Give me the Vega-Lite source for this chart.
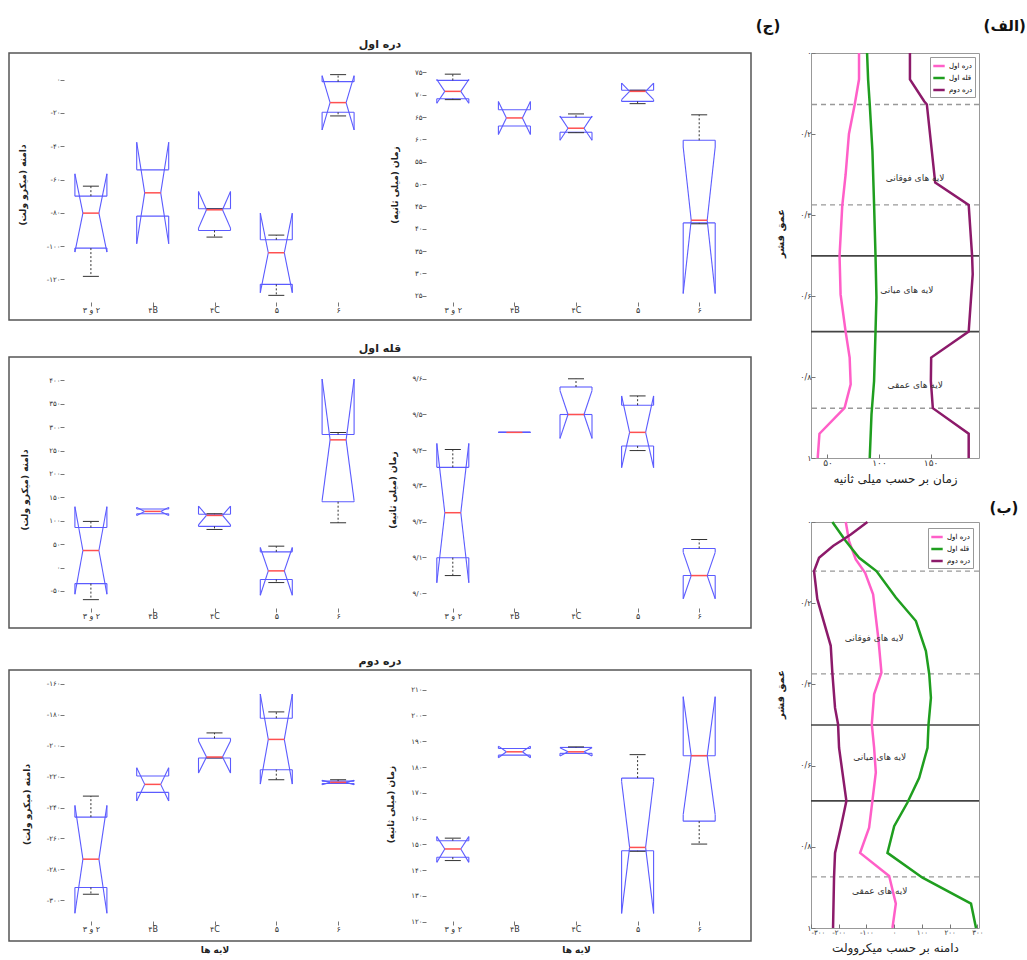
{
"$schema":"https://vega.github.io/schema/vega-lite/v6.json",
"padding":{"left":8,"top":18,"right":2,"bottom":2},
"background":"white",
"config":{
 "font":"DejaVu Sans",
 "locale":{"number":{"decimal":"/","thousands":",","grouping":[3],"currency":["",""],"numerals":["۰","۱","۲","۳","۴","۵","۶","۷","۸","۹"],"minus":"-"}},
 "axis":{"grid":false,"domain":false,"labelOverlap":false,"tickCount":30,"labelFontSize":7,"labelColor":"#333","tickColor":"#777","tickSize":-4,"labelPadding":4,"titleFontSize":9,"titleFontWeight":"bold","titleColor":"#222","titlePadding":9},
 "rule":{"color":"#5b5bff","strokeWidth":1.1}
},
"datasets":{
 "r1a":[
  {"pos":1,"q1":-101.2,"q3":-70,"med":-80.2,"nlo":-103.6,"nhi":-56.6,"wlo":-118.2,"whi":-64},
  {"pos":2,"q1":-82,"q3":-54.2,"med":-68,"nlo":-98.6,"nhi":-37.6,"wlo":null,"whi":null},
  {"pos":3,"q1":-90.6,"q3":-77.6,"med":-78.2,"nlo":-89.2,"nhi":-67.2,"wlo":-94.6,"whi":-77.6},
  {"pos":4,"q1":-123,"q3":-96.2,"med":-104,"nlo":-128,"nhi":-80.2,"wlo":-129.6,"whi":-93.4},
  {"pos":5,"q1":-19.6,"q3":-1.2,"med":-13.8,"nlo":-30.2,"nhi":2.4,"wlo":-21.8,"whi":3}],
 "r1t":[
  {"pos":1,"q1":69.1,"q3":73.2,"med":70.75,"nlo":68.1,"nhi":73.4,"wlo":68.9,"whi":74.6},
  {"pos":2,"q1":63.0,"q3":66.65,"med":64.8,"nlo":61.1,"nhi":68.5,"wlo":null,"whi":null},
  {"pos":3,"q1":61.6,"q3":64.95,"med":62.5,"nlo":59.8,"nhi":65.2,"wlo":61.5,"whi":65.7},
  {"pos":4,"q1":68.5,"q3":71.0,"med":70.75,"nlo":68.9,"nhi":72.6,"wlo":68.0,"whi":71.0},
  {"pos":5,"q1":41.3,"q3":59.8,"med":41.9,"nlo":25.5,"nhi":58.3,"wlo":41.1,"whi":65.5}],
 "r2a":[
  {"pos":1,"q1":-34.3,"q3":85.7,"med":36.4,"nlo":-57,"nhi":130,"wlo":-68.6,"whi":98.6},
  {"pos":2,"q1":115,"q3":125,"med":120,"nlo":111.4,"nhi":128.6,"wlo":null,"whi":null},
  {"pos":3,"q1":87.9,"q3":114,"med":111.4,"nlo":91.4,"nhi":131.4,"wlo":81.4,"whi":115},
  {"pos":4,"q1":-25.7,"q3":33.6,"med":-7.1,"nlo":-59.3,"nhi":42.9,"wlo":-32.1,"whi":45.7},
  {"pos":5,"q1":140.7,"q3":284.3,"med":272.9,"nlo":143,"nhi":402.9,"wlo":95.7,"whi":288.6}],
 "r2t":[
  {"pos":1,"q1":9.099,"q3":9.352,"med":9.225,"nlo":9.029,"nhi":9.419,"wlo":9.049,"whi":9.402},
  {"pos":2,"q1":9.45,"q3":9.45,"med":9.45,"nlo":9.45,"nhi":9.45,"wlo":null,"whi":null},
  {"pos":3,"q1":9.5,"q3":9.577,"med":9.5,"nlo":9.433,"nhi":9.567,"wlo":null,"whi":9.6},
  {"pos":4,"q1":9.412,"q3":9.526,"med":9.45,"nlo":9.351,"nhi":9.552,"wlo":9.399,"whi":9.552},
  {"pos":5,"q1":9.049,"q3":9.125,"med":9.049,"nlo":8.984,"nhi":9.114,"wlo":null,"whi":9.15}],
 "r3a":[
  {"pos":1,"q1":-291.7,"q3":-246.2,"med":-273.4,"nlo":-308.4,"nhi":-238.6,"wlo":-296.1,"whi":-232.6},
  {"pos":2,"q1":-230.2,"q3":-219.6,"med":-225,"nlo":-235.8,"nhi":-214.2,"wlo":null,"whi":null},
  {"pos":3,"q1":-207.9,"q3":-195.2,"med":-207.3,"nlo":-217.7,"nhi":-196.9,"wlo":-207.9,"whi":-191.7},
  {"pos":4,"q1":-215.5,"q3":-182.2,"med":-195.9,"nlo":-224.8,"nhi":-166.5,"wlo":-222,"whi":-178.1},
  {"pos":5,"q1":-224.4,"q3":-222.9,"med":-223.7,"nlo":-225.2,"nhi":-222.4,"wlo":null,"whi":-222}],
 "r3t":[
  {"pos":1,"q1":145.0,"q3":151.4,"med":148.2,"nlo":143.0,"nhi":153.0,"wlo":143.7,"whi":152.4},
  {"pos":2,"q1":184.6,"q3":187.2,"med":185.9,"nlo":183.6,"nhi":188.1,"wlo":null,"whi":null},
  {"pos":3,"q1":185.3,"q3":187.6,"med":185.9,"nlo":184.3,"nhi":187.5,"wlo":null,"whi":187.8},
  {"pos":4,"q1":147.5,"q3":175.7,"med":148.8,"nlo":123.2,"nhi":174.4,"wlo":147.3,"whi":184.8},
  {"pos":5,"q1":159,"q3":184.4,"med":184.4,"nlo":161.5,"nhi":207.3,"wlo":150.1,"whi":null}],
 "la":[
  {"s":"دره اول","depth":0,"v":80.6},{"s":"دره اول","depth":0.065,"v":80.6},{"s":"دره اول","depth":0.127,"v":76.4},{"s":"دره اول","depth":0.2,"v":70.8},{"s":"دره اول","depth":0.3,"v":67.6},{"s":"دره اول","depth":0.378,"v":64.3},{"s":"دره اول","depth":0.501,"v":61.7},{"s":"دره اول","depth":0.596,"v":62.7},{"s":"دره اول","depth":0.688,"v":67.6},{"s":"دره اول","depth":0.752,"v":71.5},{"s":"دره اول","depth":0.818,"v":72.5},{"s":"دره اول","depth":0.876,"v":66.6},{"s":"دره اول","depth":0.94,"v":42.2},{"s":"دره اول","depth":1,"v":40.5},
  {"s":"قله اول","depth":0,"v":88.4},{"s":"قله اول","depth":0.065,"v":89.4},{"s":"قله اول","depth":0.127,"v":91},{"s":"قله اول","depth":0.242,"v":93.6},{"s":"قله اول","depth":0.374,"v":95.2},{"s":"قله اول","depth":0.501,"v":96.6},{"s":"قله اول","depth":0.604,"v":97.5},{"s":"قله اول","depth":0.688,"v":96.6},{"s":"قله اول","depth":0.81,"v":95.2},{"s":"قله اول","depth":0.892,"v":92.7},{"s":"قله اول","depth":1,"v":91},
  {"s":"دره دوم","depth":0,"v":130},{"s":"دره دوم","depth":0.065,"v":130},{"s":"دره دوم","depth":0.119,"v":143.8},{"s":"دره دوم","depth":0.127,"v":146.4},{"s":"دره دوم","depth":0.32,"v":154.5},{"s":"دره دوم","depth":0.375,"v":187},{"s":"دره دوم","depth":0.501,"v":190.3},{"s":"دره دوم","depth":0.546,"v":190.9},{"s":"دره دوم","depth":0.688,"v":187},{"s":"دره دوم","depth":0.752,"v":150.6},{"s":"دره دوم","depth":0.81,"v":150.3},{"s":"دره دوم","depth":0.877,"v":152.2},{"s":"دره دوم","depth":0.94,"v":187},{"s":"دره دوم","depth":1,"v":187}],
 "lb":[
  {"s":"دره اول","depth":0,"v":-174.6},{"s":"دره اول","depth":0.047,"v":-162.7},{"s":"دره اول","depth":0.092,"v":-138.5},{"s":"دره اول","depth":0.125,"v":-104.8},{"s":"دره اول","depth":0.178,"v":-76},{"s":"دره اول","depth":0.289,"v":-56.7},{"s":"دره اول","depth":0.371,"v":-45.9},{"s":"دره اول","depth":0.424,"v":-72.3},{"s":"دره اول","depth":0.498,"v":-80.7},{"s":"دره اول","depth":0.556,"v":-72.3},{"s":"دره اول","depth":0.617,"v":-66.2},{"s":"دره اول","depth":0.687,"v":-78.5},{"s":"دره اول","depth":0.753,"v":-90.4},{"s":"دره اول","depth":0.815,"v":-122.9},{"s":"دره اول","depth":0.872,"v":-18.1},{"s":"دره اول","depth":0.94,"v":6},{"s":"دره اول","depth":1,"v":-6.2},
  {"s":"قله اول","depth":0,"v":-223},{"s":"قله اول","depth":0.047,"v":-174.6},{"s":"قله اول","depth":0.088,"v":-126.5},{"s":"قله اول","depth":0.121,"v":-64},{"s":"قله اول","depth":0.186,"v":6},{"s":"قله اول","depth":0.244,"v":78.4},{"s":"قله اول","depth":0.318,"v":114.5},{"s":"قله اول","depth":0.375,"v":126.5},{"s":"قله اول","depth":0.433,"v":132.6},{"s":"قله اول","depth":0.498,"v":124},{"s":"قله اول","depth":0.556,"v":120.3},{"s":"قله اول","depth":0.63,"v":90.3},{"s":"قله اول","depth":0.691,"v":48},{"s":"قله اول","depth":0.749,"v":0},{"s":"قله اول","depth":0.815,"v":-24.2},{"s":"قله اول","depth":0.876,"v":102.2},{"s":"قله اول","depth":0.94,"v":277.2},{"s":"قله اول","depth":1,"v":295.2},
  {"s":"دره دوم","depth":0,"v":-96.5},{"s":"دره دوم","depth":0.031,"v":-156.5},{"s":"دره دوم","depth":0.059,"v":-220.5},{"s":"دره دوم","depth":0.088,"v":-271},{"s":"دره دوم","depth":0.121,"v":-289},{"s":"دره دوم","depth":0.19,"v":-277.2},{"s":"دره دوم","depth":0.305,"v":-228.8},{"s":"دره دوم","depth":0.371,"v":-223},{"s":"دره دوم","depth":0.458,"v":-213.3},{"s":"دره دوم","depth":0.498,"v":-202.4},{"s":"دره دوم","depth":0.556,"v":-198.8},{"s":"دره دوم","depth":0.687,"v":-172.4},{"s":"دره دوم","depth":0.753,"v":-192.7},{"s":"دره دوم","depth":0.815,"v":-213.3},{"s":"دره دوم","depth":0.876,"v":-216.9},{"s":"دره دوم","depth":1,"v":-220.5}],
 "hla":[{"depth":0.127,"kind":"dashed"},{"depth":0.375,"kind":"dashed"},{"depth":0.877,"kind":"dashed"},{"depth":0.501,"kind":"solid"},{"depth":0.688,"kind":"solid"}],
 "hlb":[{"depth":0.121,"kind":"dashed"},{"depth":0.374,"kind":"dashed"},{"depth":0.874,"kind":"dashed"},{"depth":0.5,"kind":"solid"},{"depth":0.687,"kind":"solid"}],
 "ta":[{"label":"لایه های فوقانی","v":135,"depth":0.308},{"label":"لایه های میانی","v":127,"depth":0.586},{"label":"لایه های عمقی","v":135,"depth":0.82}],
 "tb":[{"label":"لایه های فوقانی","v":-72,"depth":0.285},{"label":"لایه های میانی","v":-52,"depth":0.58},{"label":"لایه های عمقی","v":-52,"depth":0.909}]
},
"hconcat":[
 {"vconcat":[
  {"width":742,"height":267,"view":{"stroke":"#555","strokeWidth":1.5},
   "title":{"text":"دره اول","anchor":"middle","offset":3,"dy":11,"baseline":"bottom","fontSize":11,"fontWeight":"bold","color":"#222"},
   "resolve":{"scale":{"x":"independent","y":"independent"}},
   "layer":[
    {"data":{"name":"r1a"},
     "encoding":{"x":{"field":"pos","type":"quantitative","scale":{"domain":[0.5,5.5],"range":[51,360],"nice":false,"zero":false},"axis":{"orient":"bottom","offset":-14,"values":[1,2,3,4,5],"tickCount":30,"labelFontSize":8,"labelOverlap":false,"labelExpr":"['', '\u200f۲ و ۳', '۴B', '۴C', '۵', '۶'][datum.value]","title":null}}},
     "layer":[
      {"data":{"values":[{}]},"mark":{"type":"rect","filled":false,"stroke":"#aaa","strokeWidth":1},"encoding":{"x":{"datum":0.5,"type":"quantitative"},"x2":{"datum":5.5},"y":{"datum":-136,"type":"quantitative","scale":{"domain":[-136,10],"range":[253,10],"nice":false,"zero":false},"axis":{"orient":"left","offset":-51,"values":[0,-20,-40,-60,-80,-100,-120],"tickCount":30,"labelOverlap":false,"format":"d","titlePadding":19,"title":"\u200fدامنه (میکرو ولت)\u200f"}},"y2":{"datum":10}}},
      {"mark":{"type":"rule","xOffset":-16,"x2Offset":16},"encoding":{"x2":{"field":"pos"},"y":{"field":"q3","type":"quantitative"}}},
      {"mark":{"type":"rule","xOffset":-16,"x2Offset":16},"encoding":{"x2":{"field":"pos"},"y":{"field":"q1","type":"quantitative"}}},
      {"mark":{"type":"rule","xOffset":-16},"encoding":{"y":{"field":"q3","type":"quantitative"},"y2":{"field":"nhi"}}},
      {"mark":{"type":"rule","xOffset":16},"encoding":{"y":{"field":"q3","type":"quantitative"},"y2":{"field":"nhi"}}},
      {"mark":{"type":"rule","xOffset":-16},"encoding":{"y":{"field":"q1","type":"quantitative"},"y2":{"field":"nlo"}}},
      {"mark":{"type":"rule","xOffset":16},"encoding":{"y":{"field":"q1","type":"quantitative"},"y2":{"field":"nlo"}}},
      {"mark":{"type":"rule","xOffset":-16,"x2Offset":-8},"encoding":{"x2":{"field":"pos"},"y":{"field":"nhi","type":"quantitative"},"y2":{"field":"med"}}},
      {"mark":{"type":"rule","xOffset":16,"x2Offset":8},"encoding":{"x2":{"field":"pos"},"y":{"field":"nhi","type":"quantitative"},"y2":{"field":"med"}}},
      {"mark":{"type":"rule","xOffset":-16,"x2Offset":-8},"encoding":{"x2":{"field":"pos"},"y":{"field":"nlo","type":"quantitative"},"y2":{"field":"med"}}},
      {"mark":{"type":"rule","xOffset":16,"x2Offset":8},"encoding":{"x2":{"field":"pos"},"y":{"field":"nlo","type":"quantitative"},"y2":{"field":"med"}}},
      {"transform":[{"filter":"isValid(datum.whi)"}],"mark":{"type":"rule","color":"#333","strokeDash":[2,2],"strokeWidth":1},"encoding":{"y":{"field":"q3","type":"quantitative"},"y2":{"field":"whi"}}},
      {"transform":[{"filter":"isValid(datum.wlo)"}],"mark":{"type":"rule","color":"#333","strokeDash":[2,2],"strokeWidth":1},"encoding":{"y":{"field":"q1","type":"quantitative"},"y2":{"field":"wlo"}}},
      {"transform":[{"filter":"isValid(datum.whi)"}],"mark":{"type":"rule","color":"#333","strokeWidth":1,"xOffset":-8,"x2Offset":8},"encoding":{"x2":{"field":"pos"},"y":{"field":"whi","type":"quantitative"}}},
      {"transform":[{"filter":"isValid(datum.wlo)"}],"mark":{"type":"rule","color":"#333","strokeWidth":1,"xOffset":-8,"x2Offset":8},"encoding":{"x2":{"field":"pos"},"y":{"field":"wlo","type":"quantitative"}}},
      {"mark":{"type":"rule","color":"#ff5050","strokeWidth":1.5,"xOffset":-8,"x2Offset":8},"encoding":{"x2":{"field":"pos"},"y":{"field":"med","type":"quantitative"}}},
      {"data":{"values":[{}]},"mark":{"type":"text","text":"P = ۰/۰۴۷","align":"left","baseline":"middle","fontSize":11,"color":"#444"},"encoding":{"x":{"datum":0.76,"type":"quantitative"},"y":{"datum":-5,"type":"quantitative"}}}
     ]},
    {"data":{"name":"r1t"},
     "encoding":{"x":{"field":"pos","type":"quantitative","scale":{"domain":[0.5,5.5],"range":[413,721],"nice":false,"zero":false},"axis":{"orient":"bottom","offset":-14,"values":[1,2,3,4,5],"tickCount":30,"labelFontSize":8,"labelOverlap":false,"labelExpr":"['', '\u200f۲ و ۳', '۴B', '۴C', '۵', '۶'][datum.value]","title":null}}},
     "layer":[
      {"data":{"values":[{}]},"mark":{"type":"rect","filled":false,"stroke":"#aaa","strokeWidth":1},"encoding":{"x":{"datum":0.5,"type":"quantitative"},"x2":{"datum":5.5},"y":{"datum":22.7,"type":"quantitative","scale":{"domain":[22.7,77.1],"range":[253,10],"nice":false,"zero":false},"axis":{"orient":"left","offset":-413,"values":[25,30,35,40,45,50,55,60,65,70,75],"tickCount":30,"labelOverlap":false,"format":"d","titlePadding":15,"title":"\u200fزمان (میلی ثانیه)\u200f"}},"y2":{"datum":77.1}}},
      {"mark":{"type":"rule","xOffset":-16,"x2Offset":16},"encoding":{"x2":{"field":"pos"},"y":{"field":"q3","type":"quantitative"}}},
      {"mark":{"type":"rule","xOffset":-16,"x2Offset":16},"encoding":{"x2":{"field":"pos"},"y":{"field":"q1","type":"quantitative"}}},
      {"mark":{"type":"rule","xOffset":-16},"encoding":{"y":{"field":"q3","type":"quantitative"},"y2":{"field":"nhi"}}},
      {"mark":{"type":"rule","xOffset":16},"encoding":{"y":{"field":"q3","type":"quantitative"},"y2":{"field":"nhi"}}},
      {"mark":{"type":"rule","xOffset":-16},"encoding":{"y":{"field":"q1","type":"quantitative"},"y2":{"field":"nlo"}}},
      {"mark":{"type":"rule","xOffset":16},"encoding":{"y":{"field":"q1","type":"quantitative"},"y2":{"field":"nlo"}}},
      {"mark":{"type":"rule","xOffset":-16,"x2Offset":-8},"encoding":{"x2":{"field":"pos"},"y":{"field":"nhi","type":"quantitative"},"y2":{"field":"med"}}},
      {"mark":{"type":"rule","xOffset":16,"x2Offset":8},"encoding":{"x2":{"field":"pos"},"y":{"field":"nhi","type":"quantitative"},"y2":{"field":"med"}}},
      {"mark":{"type":"rule","xOffset":-16,"x2Offset":-8},"encoding":{"x2":{"field":"pos"},"y":{"field":"nlo","type":"quantitative"},"y2":{"field":"med"}}},
      {"mark":{"type":"rule","xOffset":16,"x2Offset":8},"encoding":{"x2":{"field":"pos"},"y":{"field":"nlo","type":"quantitative"},"y2":{"field":"med"}}},
      {"transform":[{"filter":"isValid(datum.whi)"}],"mark":{"type":"rule","color":"#333","strokeDash":[2,2],"strokeWidth":1},"encoding":{"y":{"field":"q3","type":"quantitative"},"y2":{"field":"whi"}}},
      {"transform":[{"filter":"isValid(datum.wlo)"}],"mark":{"type":"rule","color":"#333","strokeDash":[2,2],"strokeWidth":1},"encoding":{"y":{"field":"q1","type":"quantitative"},"y2":{"field":"wlo"}}},
      {"transform":[{"filter":"isValid(datum.whi)"}],"mark":{"type":"rule","color":"#333","strokeWidth":1,"xOffset":-8,"x2Offset":8},"encoding":{"x2":{"field":"pos"},"y":{"field":"whi","type":"quantitative"}}},
      {"transform":[{"filter":"isValid(datum.wlo)"}],"mark":{"type":"rule","color":"#333","strokeWidth":1,"xOffset":-8,"x2Offset":8},"encoding":{"x2":{"field":"pos"},"y":{"field":"wlo","type":"quantitative"}}},
      {"mark":{"type":"rule","color":"#ff5050","strokeWidth":1.5,"xOffset":-8,"x2Offset":8},"encoding":{"x2":{"field":"pos"},"y":{"field":"med","type":"quantitative"}}},
      {"data":{"values":[{}]},"mark":{"type":"text","text":"P = ۰/۰۲۳","align":"left","baseline":"middle","fontSize":11,"color":"#444"},"encoding":{"x":{"datum":0.81,"type":"quantitative"},"y":{"datum":57.9,"type":"quantitative"}}}
     ]}
   ]},
  {"vconcat":[
   {"width":742,"height":271,"view":{"stroke":"#555","strokeWidth":1.5},
    "title":{"text":"قله اول","anchor":"middle","offset":3,"dy":11,"baseline":"bottom","fontSize":11,"fontWeight":"bold","color":"#222"},
    "resolve":{"scale":{"x":"independent","y":"independent"}},
    "layer":[
     {"data":{"name":"r2a"},
      "encoding":{"x":{"field":"pos","type":"quantitative","scale":{"domain":[0.5,5.5],"range":[51,360],"nice":false,"zero":false},"axis":{"orient":"bottom","offset":-16,"values":[1,2,3,4,5],"tickCount":30,"labelFontSize":8,"labelOverlap":false,"labelExpr":"['', '\u200f۲ و ۳', '۴B', '۴C', '۵', '۶'][datum.value]","title":null}}},
      "layer":[
       {"data":{"values":[{}]},"mark":{"type":"rect","filled":false,"stroke":"#aaa","strokeWidth":1},"encoding":{"x":{"datum":0.5,"type":"quantitative"},"x2":{"datum":5.5},"y":{"datum":-95,"type":"quantitative","scale":{"domain":[-95,428.6],"range":[255,10],"nice":false,"zero":false},"axis":{"orient":"left","offset":-51,"values":[-50,0,50,100,150,200,250,300,350,400],"tickCount":30,"labelOverlap":false,"format":"d","titlePadding":19,"title":"\u200fدامنه (میکرو ولت)\u200f"}},"y2":{"datum":428.6}}},
       {"mark":{"type":"rule","xOffset":-16,"x2Offset":16},"encoding":{"x2":{"field":"pos"},"y":{"field":"q3","type":"quantitative"}}},
       {"mark":{"type":"rule","xOffset":-16,"x2Offset":16},"encoding":{"x2":{"field":"pos"},"y":{"field":"q1","type":"quantitative"}}},
       {"mark":{"type":"rule","xOffset":-16},"encoding":{"y":{"field":"q3","type":"quantitative"},"y2":{"field":"nhi"}}},
       {"mark":{"type":"rule","xOffset":16},"encoding":{"y":{"field":"q3","type":"quantitative"},"y2":{"field":"nhi"}}},
       {"mark":{"type":"rule","xOffset":-16},"encoding":{"y":{"field":"q1","type":"quantitative"},"y2":{"field":"nlo"}}},
       {"mark":{"type":"rule","xOffset":16},"encoding":{"y":{"field":"q1","type":"quantitative"},"y2":{"field":"nlo"}}},
       {"mark":{"type":"rule","xOffset":-16,"x2Offset":-8},"encoding":{"x2":{"field":"pos"},"y":{"field":"nhi","type":"quantitative"},"y2":{"field":"med"}}},
       {"mark":{"type":"rule","xOffset":16,"x2Offset":8},"encoding":{"x2":{"field":"pos"},"y":{"field":"nhi","type":"quantitative"},"y2":{"field":"med"}}},
       {"mark":{"type":"rule","xOffset":-16,"x2Offset":-8},"encoding":{"x2":{"field":"pos"},"y":{"field":"nlo","type":"quantitative"},"y2":{"field":"med"}}},
       {"mark":{"type":"rule","xOffset":16,"x2Offset":8},"encoding":{"x2":{"field":"pos"},"y":{"field":"nlo","type":"quantitative"},"y2":{"field":"med"}}},
       {"transform":[{"filter":"isValid(datum.whi)"}],"mark":{"type":"rule","color":"#333","strokeDash":[2,2],"strokeWidth":1},"encoding":{"y":{"field":"q3","type":"quantitative"},"y2":{"field":"whi"}}},
       {"transform":[{"filter":"isValid(datum.wlo)"}],"mark":{"type":"rule","color":"#333","strokeDash":[2,2],"strokeWidth":1},"encoding":{"y":{"field":"q1","type":"quantitative"},"y2":{"field":"wlo"}}},
       {"transform":[{"filter":"isValid(datum.whi)"}],"mark":{"type":"rule","color":"#333","strokeWidth":1,"xOffset":-8,"x2Offset":8},"encoding":{"x2":{"field":"pos"},"y":{"field":"whi","type":"quantitative"}}},
       {"transform":[{"filter":"isValid(datum.wlo)"}],"mark":{"type":"rule","color":"#333","strokeWidth":1,"xOffset":-8,"x2Offset":8},"encoding":{"x2":{"field":"pos"},"y":{"field":"wlo","type":"quantitative"}}},
       {"mark":{"type":"rule","color":"#ff5050","strokeWidth":1.5,"xOffset":-8,"x2Offset":8},"encoding":{"x2":{"field":"pos"},"y":{"field":"med","type":"quantitative"}}},
       {"data":{"values":[{}]},"mark":{"type":"text","text":"P = ۰/۰۳۷","align":"left","baseline":"middle","fontSize":11,"color":"#444"},"encoding":{"x":{"datum":0.73,"type":"quantitative"},"y":{"datum":368,"type":"quantitative"}}}
      ]},
     {"data":{"name":"r2t"},
      "encoding":{"x":{"field":"pos","type":"quantitative","scale":{"domain":[0.5,5.5],"range":[413,721],"nice":false,"zero":false},"axis":{"orient":"bottom","offset":-16,"values":[1,2,3,4,5],"tickCount":30,"labelFontSize":8,"labelOverlap":false,"labelExpr":"['', '\u200f۲ و ۳', '۴B', '۴C', '۵', '۶'][datum.value]","title":null}}},
      "layer":[
       {"data":{"values":[{}]},"mark":{"type":"rect","filled":false,"stroke":"#aaa","strokeWidth":1},"encoding":{"x":{"datum":0.5,"type":"quantitative"},"x2":{"datum":5.5},"y":{"datum":8.947,"type":"quantitative","scale":{"domain":[8.947,9.633],"range":[255,10],"nice":false,"zero":false},"axis":{"orient":"left","offset":-413,"values":[9,9.1,9.2,9.3,9.4,9.5,9.6],"tickCount":30,"labelOverlap":false,"format":".1f","titlePadding":15,"title":"\u200fزمان (میلی ثانیه)\u200f"}},"y2":{"datum":9.633}}},
       {"mark":{"type":"rule","xOffset":-16,"x2Offset":16},"encoding":{"x2":{"field":"pos"},"y":{"field":"q3","type":"quantitative"}}},
       {"mark":{"type":"rule","xOffset":-16,"x2Offset":16},"encoding":{"x2":{"field":"pos"},"y":{"field":"q1","type":"quantitative"}}},
       {"mark":{"type":"rule","xOffset":-16},"encoding":{"y":{"field":"q3","type":"quantitative"},"y2":{"field":"nhi"}}},
       {"mark":{"type":"rule","xOffset":16},"encoding":{"y":{"field":"q3","type":"quantitative"},"y2":{"field":"nhi"}}},
       {"mark":{"type":"rule","xOffset":-16},"encoding":{"y":{"field":"q1","type":"quantitative"},"y2":{"field":"nlo"}}},
       {"mark":{"type":"rule","xOffset":16},"encoding":{"y":{"field":"q1","type":"quantitative"},"y2":{"field":"nlo"}}},
       {"mark":{"type":"rule","xOffset":-16,"x2Offset":-8},"encoding":{"x2":{"field":"pos"},"y":{"field":"nhi","type":"quantitative"},"y2":{"field":"med"}}},
       {"mark":{"type":"rule","xOffset":16,"x2Offset":8},"encoding":{"x2":{"field":"pos"},"y":{"field":"nhi","type":"quantitative"},"y2":{"field":"med"}}},
       {"mark":{"type":"rule","xOffset":-16,"x2Offset":-8},"encoding":{"x2":{"field":"pos"},"y":{"field":"nlo","type":"quantitative"},"y2":{"field":"med"}}},
       {"mark":{"type":"rule","xOffset":16,"x2Offset":8},"encoding":{"x2":{"field":"pos"},"y":{"field":"nlo","type":"quantitative"},"y2":{"field":"med"}}},
       {"transform":[{"filter":"isValid(datum.whi)"}],"mark":{"type":"rule","color":"#333","strokeDash":[2,2],"strokeWidth":1},"encoding":{"y":{"field":"q3","type":"quantitative"},"y2":{"field":"whi"}}},
       {"transform":[{"filter":"isValid(datum.wlo)"}],"mark":{"type":"rule","color":"#333","strokeDash":[2,2],"strokeWidth":1},"encoding":{"y":{"field":"q1","type":"quantitative"},"y2":{"field":"wlo"}}},
       {"transform":[{"filter":"isValid(datum.whi)"}],"mark":{"type":"rule","color":"#333","strokeWidth":1,"xOffset":-8,"x2Offset":8},"encoding":{"x2":{"field":"pos"},"y":{"field":"whi","type":"quantitative"}}},
       {"transform":[{"filter":"isValid(datum.wlo)"}],"mark":{"type":"rule","color":"#333","strokeWidth":1,"xOffset":-8,"x2Offset":8},"encoding":{"x2":{"field":"pos"},"y":{"field":"wlo","type":"quantitative"}}},
       {"mark":{"type":"rule","color":"#ff5050","strokeWidth":1.5,"xOffset":-8,"x2Offset":8},"encoding":{"x2":{"field":"pos"},"y":{"field":"med","type":"quantitative"}}},
       {"data":{"values":[{}]},"mark":{"type":"text","text":"P = ۰/۰۲۰","align":"left","baseline":"middle","fontSize":11,"color":"#444"},"encoding":{"x":{"datum":0.86,"type":"quantitative"},"y":{"datum":9.555,"type":"quantitative"}}}
      ]}
    ]},
   {"width":742,"height":271,"view":{"stroke":"#555","strokeWidth":1.5},
    "title":{"text":"دره دوم","anchor":"middle","offset":3,"dy":11,"baseline":"bottom","fontSize":11,"fontWeight":"bold","color":"#222"},
    "resolve":{"scale":{"x":"independent","y":"independent"}},
    "layer":[
     {"data":{"name":"r3a"},
      "encoding":{"x":{"field":"pos","type":"quantitative","scale":{"domain":[0.5,5.5],"range":[51,360],"nice":false,"zero":false},"axis":{"orient":"bottom","offset":-16,"values":[1,2,3,4,5],"tickCount":30,"labelFontSize":8,"labelOverlap":false,"labelExpr":"['', '\u200f۲ و ۳', '۴B', '۴C', '۵', '۶'][datum.value]","title":"لایه ها","titleY":20,"titleBaseline":"top"}}},
      "layer":[
       {"data":{"values":[{}]},"mark":{"type":"rect","filled":false,"stroke":"#aaa","strokeWidth":1},"encoding":{"x":{"datum":0.5,"type":"quantitative"},"x2":{"datum":5.5},"y":{"datum":-316,"type":"quantitative","scale":{"domain":[-316,-159.4],"range":[255,13],"nice":false,"zero":false},"axis":{"orient":"left","offset":-51,"values":[-300,-280,-260,-240,-220,-200,-180,-160],"tickCount":30,"labelOverlap":false,"format":"d","titlePadding":15,"title":"\u200fدامنه (میکرو ولت)\u200f"}},"y2":{"datum":-159.4}}},
       {"mark":{"type":"rule","xOffset":-16,"x2Offset":16},"encoding":{"x2":{"field":"pos"},"y":{"field":"q3","type":"quantitative"}}},
       {"mark":{"type":"rule","xOffset":-16,"x2Offset":16},"encoding":{"x2":{"field":"pos"},"y":{"field":"q1","type":"quantitative"}}},
       {"mark":{"type":"rule","xOffset":-16},"encoding":{"y":{"field":"q3","type":"quantitative"},"y2":{"field":"nhi"}}},
       {"mark":{"type":"rule","xOffset":16},"encoding":{"y":{"field":"q3","type":"quantitative"},"y2":{"field":"nhi"}}},
       {"mark":{"type":"rule","xOffset":-16},"encoding":{"y":{"field":"q1","type":"quantitative"},"y2":{"field":"nlo"}}},
       {"mark":{"type":"rule","xOffset":16},"encoding":{"y":{"field":"q1","type":"quantitative"},"y2":{"field":"nlo"}}},
       {"mark":{"type":"rule","xOffset":-16,"x2Offset":-8},"encoding":{"x2":{"field":"pos"},"y":{"field":"nhi","type":"quantitative"},"y2":{"field":"med"}}},
       {"mark":{"type":"rule","xOffset":16,"x2Offset":8},"encoding":{"x2":{"field":"pos"},"y":{"field":"nhi","type":"quantitative"},"y2":{"field":"med"}}},
       {"mark":{"type":"rule","xOffset":-16,"x2Offset":-8},"encoding":{"x2":{"field":"pos"},"y":{"field":"nlo","type":"quantitative"},"y2":{"field":"med"}}},
       {"mark":{"type":"rule","xOffset":16,"x2Offset":8},"encoding":{"x2":{"field":"pos"},"y":{"field":"nlo","type":"quantitative"},"y2":{"field":"med"}}},
       {"transform":[{"filter":"isValid(datum.whi)"}],"mark":{"type":"rule","color":"#333","strokeDash":[2,2],"strokeWidth":1},"encoding":{"y":{"field":"q3","type":"quantitative"},"y2":{"field":"whi"}}},
       {"transform":[{"filter":"isValid(datum.wlo)"}],"mark":{"type":"rule","color":"#333","strokeDash":[2,2],"strokeWidth":1},"encoding":{"y":{"field":"q1","type":"quantitative"},"y2":{"field":"wlo"}}},
       {"transform":[{"filter":"isValid(datum.whi)"}],"mark":{"type":"rule","color":"#333","strokeWidth":1,"xOffset":-8,"x2Offset":8},"encoding":{"x2":{"field":"pos"},"y":{"field":"whi","type":"quantitative"}}},
       {"transform":[{"filter":"isValid(datum.wlo)"}],"mark":{"type":"rule","color":"#333","strokeWidth":1,"xOffset":-8,"x2Offset":8},"encoding":{"x2":{"field":"pos"},"y":{"field":"wlo","type":"quantitative"}}},
       {"mark":{"type":"rule","color":"#ff5050","strokeWidth":1.5,"xOffset":-8,"x2Offset":8},"encoding":{"x2":{"field":"pos"},"y":{"field":"med","type":"quantitative"}}},
       {"data":{"values":[{}]},"mark":{"type":"text","text":"P = ۰/۰۱۸","align":"left","baseline":"middle","fontSize":11,"color":"#444"},"encoding":{"x":{"datum":0.89,"type":"quantitative"},"y":{"datum":-180.3,"type":"quantitative"}}}
      ]},
     {"data":{"name":"r3t"},
      "encoding":{"x":{"field":"pos","type":"quantitative","scale":{"domain":[0.5,5.5],"range":[413,721],"nice":false,"zero":false},"axis":{"orient":"bottom","offset":-16,"values":[1,2,3,4,5],"tickCount":30,"labelFontSize":8,"labelOverlap":false,"labelExpr":"['', '\u200f۲ و ۳', '۴B', '۴C', '۵', '۶'][datum.value]","title":"لایه ها","titleY":20,"titleBaseline":"top"}}},
      "layer":[
       {"data":{"values":[{}]},"mark":{"type":"rect","filled":false,"stroke":"#aaa","strokeWidth":1},"encoding":{"x":{"datum":0.5,"type":"quantitative"},"x2":{"datum":5.5},"y":{"datum":118.7,"type":"quantitative","scale":{"domain":[118.7,212.6],"range":[255,13],"nice":false,"zero":false},"axis":{"orient":"left","offset":-413,"values":[120,130,140,150,160,170,180,190,200,210],"tickCount":30,"labelOverlap":false,"format":"d","titlePadding":15,"title":"\u200fزمان (میلی ثانیه)\u200f"}},"y2":{"datum":212.6}}},
       {"mark":{"type":"rule","xOffset":-16,"x2Offset":16},"encoding":{"x2":{"field":"pos"},"y":{"field":"q3","type":"quantitative"}}},
       {"mark":{"type":"rule","xOffset":-16,"x2Offset":16},"encoding":{"x2":{"field":"pos"},"y":{"field":"q1","type":"quantitative"}}},
       {"mark":{"type":"rule","xOffset":-16},"encoding":{"y":{"field":"q3","type":"quantitative"},"y2":{"field":"nhi"}}},
       {"mark":{"type":"rule","xOffset":16},"encoding":{"y":{"field":"q3","type":"quantitative"},"y2":{"field":"nhi"}}},
       {"mark":{"type":"rule","xOffset":-16},"encoding":{"y":{"field":"q1","type":"quantitative"},"y2":{"field":"nlo"}}},
       {"mark":{"type":"rule","xOffset":16},"encoding":{"y":{"field":"q1","type":"quantitative"},"y2":{"field":"nlo"}}},
       {"mark":{"type":"rule","xOffset":-16,"x2Offset":-8},"encoding":{"x2":{"field":"pos"},"y":{"field":"nhi","type":"quantitative"},"y2":{"field":"med"}}},
       {"mark":{"type":"rule","xOffset":16,"x2Offset":8},"encoding":{"x2":{"field":"pos"},"y":{"field":"nhi","type":"quantitative"},"y2":{"field":"med"}}},
       {"mark":{"type":"rule","xOffset":-16,"x2Offset":-8},"encoding":{"x2":{"field":"pos"},"y":{"field":"nlo","type":"quantitative"},"y2":{"field":"med"}}},
       {"mark":{"type":"rule","xOffset":16,"x2Offset":8},"encoding":{"x2":{"field":"pos"},"y":{"field":"nlo","type":"quantitative"},"y2":{"field":"med"}}},
       {"transform":[{"filter":"isValid(datum.whi)"}],"mark":{"type":"rule","color":"#333","strokeDash":[2,2],"strokeWidth":1},"encoding":{"y":{"field":"q3","type":"quantitative"},"y2":{"field":"whi"}}},
       {"transform":[{"filter":"isValid(datum.wlo)"}],"mark":{"type":"rule","color":"#333","strokeDash":[2,2],"strokeWidth":1},"encoding":{"y":{"field":"q1","type":"quantitative"},"y2":{"field":"wlo"}}},
       {"transform":[{"filter":"isValid(datum.whi)"}],"mark":{"type":"rule","color":"#333","strokeWidth":1,"xOffset":-8,"x2Offset":8},"encoding":{"x2":{"field":"pos"},"y":{"field":"whi","type":"quantitative"}}},
       {"transform":[{"filter":"isValid(datum.wlo)"}],"mark":{"type":"rule","color":"#333","strokeWidth":1,"xOffset":-8,"x2Offset":8},"encoding":{"x2":{"field":"pos"},"y":{"field":"wlo","type":"quantitative"}}},
       {"mark":{"type":"rule","color":"#ff5050","strokeWidth":1.5,"xOffset":-8,"x2Offset":8},"encoding":{"x2":{"field":"pos"},"y":{"field":"med","type":"quantitative"}}},
       {"data":{"values":[{}]},"mark":{"type":"text","text":"P = ۰/۰۳۶","align":"left","baseline":"middle","fontSize":11,"color":"#444"},"encoding":{"x":{"datum":0.81,"type":"quantitative"},"y":{"datum":195.9,"type":"quantitative"}}}
      ]}
    ]}
  ],"spacing":42,"bounds":"flush"}
 ],"spacing":37,"bounds":"flush"},
 {"vconcat":[
  {"width":168,"height":405,"view":{"stroke":"#999","strokeWidth":1},
   "layer":[
    {"data":{"name":"hla"},"transform":[{"filter":"datum.kind == 'dashed'"}],"mark":{"type":"rule","color":"#999","strokeDash":[5,4],"strokeWidth":1.4},
     "encoding":{"y":{"field":"depth","type":"quantitative","scale":{"domain":[0,1],"reverse":true,"nice":false,"zero":false},"axis":{"values":[0,0.2,0.4,0.6,0.8,1],"tickCount":30,"labelOverlap":false,"format":"~g","labelFontSize":8,"title":"عمق قشر","titleFontSize":10,"titlePadding":14,"titleY":180}}}},
    {"data":{"name":"hla"},"transform":[{"filter":"datum.kind == 'solid'"}],"mark":{"type":"rule","color":"#444","strokeWidth":1.6},"encoding":{"y":{"field":"depth","type":"quantitative"}}},
    {"data":{"name":"la"},"mark":{"type":"line","strokeWidth":2.5},
     "encoding":{"x":{"field":"v","type":"quantitative","scale":{"domain":[34,197],"nice":false,"zero":false},"axis":{"values":[50,100,150],"tickCount":30,"labelOverlap":false,"labelFontSize":9,"title":"زمان بر حسب میلی ثانیه","titleFontSize":12,"titleFontWeight":"normal","titlePadding":6}},
      "y":{"field":"depth","type":"quantitative"},
      "color":{"field":"s","type":"nominal","scale":{"domain":["دره اول","قله اول","دره دوم"],"range":["#ff5fc8","#1f9e1f","#8c1a6a"]},"legend":{"orient":"top-right","offset":4,"title":null,"strokeColor":"#999","fillColor":"white","padding":2,"labelFontSize":7,"symbolType":"stroke","symbolStrokeWidth":2.5,"symbolSize":130,"rowPadding":0,"labelOffset":3}},
      "order":{"field":"depth"}}},
    {"data":{"name":"ta"},"mark":{"type":"text","fontSize":9,"color":"#333"},"encoding":{"x":{"field":"v","type":"quantitative"},"y":{"field":"depth","type":"quantitative"},"text":{"field":"label"}}},
    {"data":{"values":[{}]},"mark":{"type":"text","text":"(الف)","fontSize":15,"fontWeight":"bold","align":"center","baseline":"middle","color":"#111"},"encoding":{"x":{"datum":222,"type":"quantitative"},"y":{"datum":-0.0667,"type":"quantitative"}}},
    {"data":{"values":[{}]},"mark":{"type":"text","text":"(ج)","fontSize":15,"fontWeight":"bold","align":"center","baseline":"middle","color":"#111"},"encoding":{"x":{"datum":-7.7,"type":"quantitative"},"y":{"datum":-0.0667,"type":"quantitative"}}}
   ]},
  {"width":168,"height":406,"view":{"stroke":"#999","strokeWidth":1},
   "layer":[
    {"data":{"name":"hlb"},"transform":[{"filter":"datum.kind == 'dashed'"}],"mark":{"type":"rule","color":"#999","strokeDash":[5,4],"strokeWidth":1.4},
     "encoding":{"y":{"field":"depth","type":"quantitative","scale":{"domain":[0,1],"reverse":true,"nice":false,"zero":false},"axis":{"values":[0,0.2,0.4,0.6,0.8,1],"tickCount":30,"labelOverlap":false,"format":"~g","labelFontSize":8,"title":"عمق قشر","titleFontSize":10,"titlePadding":14,"titleY":172}}}},
    {"data":{"name":"hlb"},"transform":[{"filter":"datum.kind == 'solid'"}],"mark":{"type":"rule","color":"#444","strokeWidth":1.6},"encoding":{"y":{"field":"depth","type":"quantitative"}}},
    {"data":{"name":"lb"},"mark":{"type":"line","strokeWidth":2.5},
     "encoding":{"x":{"field":"v","type":"quantitative","scale":{"domain":[-300,306],"nice":false,"zero":false},"axis":{"values":[-300,-200,-100,0,100,200,300],"tickCount":30,"labelOverlap":false,"labelFontSize":7,"title":"دامنه بر حسب میکروولت","titleFontSize":12,"titleFontWeight":"normal","titlePadding":7}},
      "y":{"field":"depth","type":"quantitative"},
      "color":{"field":"s","type":"nominal","scale":{"domain":["دره اول","قله اول","دره دوم"],"range":["#ff5fc8","#1f9e1f","#8c1a6a"]},"legend":{"orient":"top-right","offset":6,"title":null,"strokeColor":"#999","fillColor":"white","padding":2,"labelFontSize":7,"symbolType":"stroke","symbolStrokeWidth":2.5,"symbolSize":130,"rowPadding":0,"labelOffset":3}},
      "order":{"field":"depth"}}},
    {"data":{"name":"tb"},"mark":{"type":"text","fontSize":9,"color":"#333"},"encoding":{"x":{"field":"v","type":"quantitative"},"y":{"field":"depth","type":"quantitative"},"text":{"field":"label"}}},
    {"data":{"values":[{}]},"mark":{"type":"text","text":"(ب)","fontSize":15,"fontWeight":"bold","align":"center","baseline":"middle","color":"#111"},"encoding":{"x":{"datum":396,"type":"quantitative"},"y":{"datum":-0.0345,"type":"quantitative"}}}
   ]}
 ],"spacing":64,"bounds":"flush","resolve":{"scale":{"color":"independent"}}}
],
"spacing":3
}
